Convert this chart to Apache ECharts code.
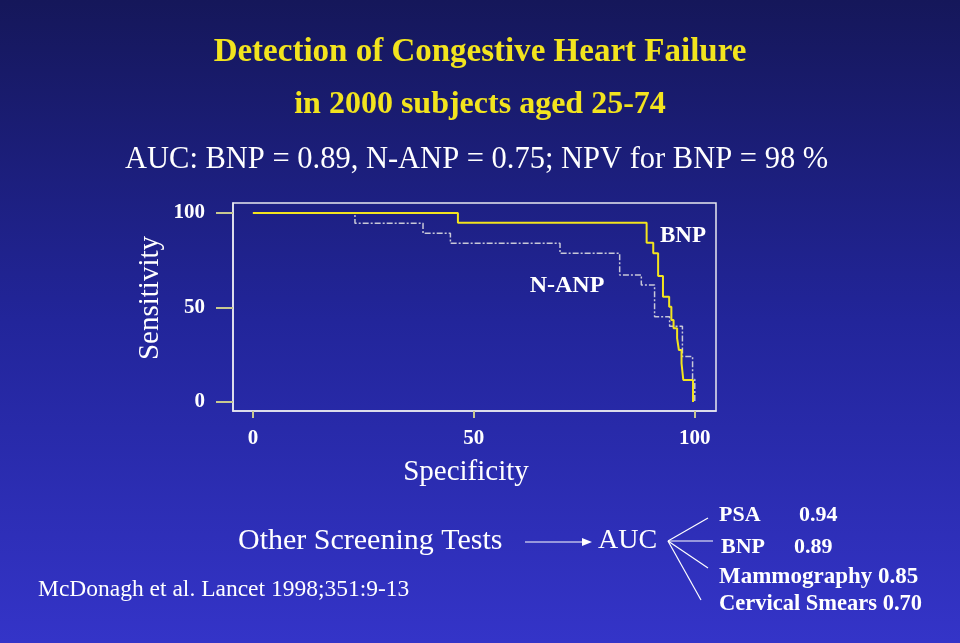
<!DOCTYPE html>
<html>
<head>
<meta charset="utf-8">
<script src="https://cdn.jsdelivr.net/npm/echarts@6/dist/echarts.min.js"></script>
<style>
  html, body { margin: 0; padding: 0; }
  #main { width: 960px; height: 643px; }
</style>
</head>
<body>
<div id="main"></div>
<script>
// ROC curves (specificity %, sensitivity %), step corners
const bnpSpec  = [0, 46.4, 89.1, 90.6, 91.7, 92.8, 94.2, 94.7, 95.2, 96.0, 96.4, 97.0, 97.4, 99.6];
const bnpSens  = [100, 94.9, 84.3, 78.7, 66.7, 55.7, 50.4, 43.4, 39, 33.7, 27.5, 20.4, 11.6, 0];
const nanpSpec = [0, 23.1, 38.5, 44.7, 69.5, 83.0, 87.9, 90.9, 94.3, 97.2, 99.5, 100];
const nanpSens = [100, 94.6, 89.3, 84.0, 78.7, 67.2, 61.9, 45.1, 40, 24, 12, 0];
const tickValues = [0, 50, 100];

const otherTests = [
  { name: "PSA", auc: "0.94" },
  { name: "BNP", auc: "0.89" },
  { name: "Mammography", auc: "0.85" },
  { name: "Cervical Smears", auc: "0.70" }
];

const serif = "'Liberation Serif', 'DejaVu Serif', serif";
const yellow = "#f2e41e";

function pairs(xs, ys) {
  return xs.map((x, i) => [x, ys[i]]);
}

let myChart = echarts.init(document.getElementById("main"));

myChart.setOption({
  backgroundColor: {
    type: "linear", x: 0, y: 0, x2: 0, y2: 1,
    colorStops: [
      { offset: 0, color: "#15175a" },
      { offset: 0.5, color: "#22259a" },
      { offset: 1, color: "#3434c8" }
    ]
  },
  animation: false,
  grid: {
    left: 233, top: 203, width: 483, height: 208,
    show: true, borderColor: "#e8e8f0", borderWidth: 1.5
  },
  xAxis: {
    type: "value", min: -4.5, max: 104.8,
    splitLine: { show: false },
    axisLine: { show: true, onZero: false, lineStyle: { color: "#e8e8f0", width: 1.5 } },
    axisTick: { show: true, length: 7, customValues: tickValues, lineStyle: { color: "#c8c890", width: 2 } },
    axisLabel: { customValues: tickValues, margin: 17, color: "#ffffff", fontFamily: serif, fontWeight: "bold", fontSize: 21 }
  },
  yAxis: {
    type: "value", min: -4.8, max: 105.3,
    splitLine: { show: false },
    axisLine: { show: true, onZero: false, lineStyle: { color: "#e8e8f0", width: 1.5 } },
    axisTick: { show: true, length: 17, customValues: tickValues, lineStyle: { color: "#c8c890", width: 2 } },
    axisLabel: { customValues: tickValues, margin: 28, color: "#ffffff", fontFamily: serif, fontWeight: "bold", fontSize: 21 }
  },
  series: [
    {
      name: "N-ANP",
      type: "line",
      step: "end",
      symbol: "none",
      data: pairs(nanpSpec, nanpSens),
      lineStyle: { color: "#c8c8d8", width: 1.5, type: [6, 2, 2, 2] },
      z: 2
    },
    {
      name: "BNP",
      type: "line",
      step: "end",
      symbol: "none",
      data: pairs(bnpSpec, bnpSens),
      lineStyle: { color: yellow, width: 2 },
      z: 3
    }
  ],
  graphic: [
    { type: "text", x: 480, y: 52, style: { text: "Detection of Congestive Heart Failure", fill: yellow, font: "bold 33px " + serif, textAlign: "center", textVerticalAlign: "middle" } },
    { type: "text", x: 480, y: 105, style: { text: "in 2000 subjects aged 25-74", fill: yellow, font: "bold 32px " + serif, textAlign: "center", textVerticalAlign: "middle" } },
    { type: "text", x: 125, y: 160, style: { text: "AUC: BNP = 0.89, N-ANP = 0.75; NPV for BNP = 98 %", fill: "#ffffff", font: "30.5px " + serif, textVerticalAlign: "middle" } },
    { type: "text", x: 150, y: 298, rotation: Math.PI / 2, style: { text: "Sensitivity", fill: "#ffffff", font: "29px " + serif, textAlign: "center", textVerticalAlign: "middle" } },
    { type: "text", x: 466, y: 472, style: { text: "Specificity", fill: "#ffffff", font: "29px " + serif, textAlign: "center", textVerticalAlign: "middle" } },
    { type: "text", x: 683, y: 236, style: { text: "BNP", fill: "#ffffff", font: "bold 23px " + serif, textAlign: "center", textVerticalAlign: "middle" } },
    { type: "text", x: 567, y: 286, style: { text: "N-ANP", fill: "#ffffff", font: "bold 24px " + serif, textAlign: "center", textVerticalAlign: "middle" } },
    { type: "text", x: 238, y: 541, style: { text: "Other Screening Tests", fill: "#ffffff", font: "30px " + serif, textVerticalAlign: "middle" } },
    { type: "line", shape: { x1: 525, y1: 542, x2: 584, y2: 542 }, style: { stroke: "#ffffff", lineWidth: 1.2 } },
    { type: "polygon", shape: { points: [[592, 542], [582, 538], [582, 546]] }, style: { fill: "#ffffff" } },
    { type: "text", x: 598, y: 541, style: { text: "AUC", fill: "#ffffff", font: "28px " + serif, textVerticalAlign: "middle" } },
    { type: "line", shape: { x1: 668, y1: 541, x2: 708, y2: 518 }, style: { stroke: "#ffffff", lineWidth: 1.2 } },
    { type: "line", shape: { x1: 668, y1: 541, x2: 713, y2: 541 }, style: { stroke: "#ffffff", lineWidth: 1.2 } },
    { type: "line", shape: { x1: 668, y1: 541, x2: 708, y2: 568 }, style: { stroke: "#ffffff", lineWidth: 1.2 } },
    { type: "line", shape: { x1: 668, y1: 541, x2: 701, y2: 600 }, style: { stroke: "#ffffff", lineWidth: 1.2 } },
    { type: "text", x: 719, y: 515, style: { text: otherTests[0].name, fill: "#ffffff", font: "bold 22px " + serif, textVerticalAlign: "middle" } },
    { type: "text", x: 799, y: 515, style: { text: otherTests[0].auc, fill: "#ffffff", font: "bold 22px " + serif, textVerticalAlign: "middle" } },
    { type: "text", x: 721, y: 547, style: { text: otherTests[1].name, fill: "#ffffff", font: "bold 22px " + serif, textVerticalAlign: "middle" } },
    { type: "text", x: 794, y: 547, style: { text: otherTests[1].auc, fill: "#ffffff", font: "bold 22px " + serif, textVerticalAlign: "middle" } },
    { type: "text", x: 719, y: 577, style: { text: otherTests[2].name + " " + otherTests[2].auc, fill: "#ffffff", font: "bold 23px " + serif, textVerticalAlign: "middle" } },
    { type: "text", x: 719, y: 604, style: { text: otherTests[3].name + " " + otherTests[3].auc, fill: "#ffffff", font: "bold 22.5px " + serif, textVerticalAlign: "middle" } },
    { type: "text", x: 38, y: 590, style: { text: "McDonagh et al. Lancet 1998;351:9-13", fill: "#ffffff", font: "23.5px " + serif, textVerticalAlign: "middle" } }
  ]
});
</script>
</body>
</html>
